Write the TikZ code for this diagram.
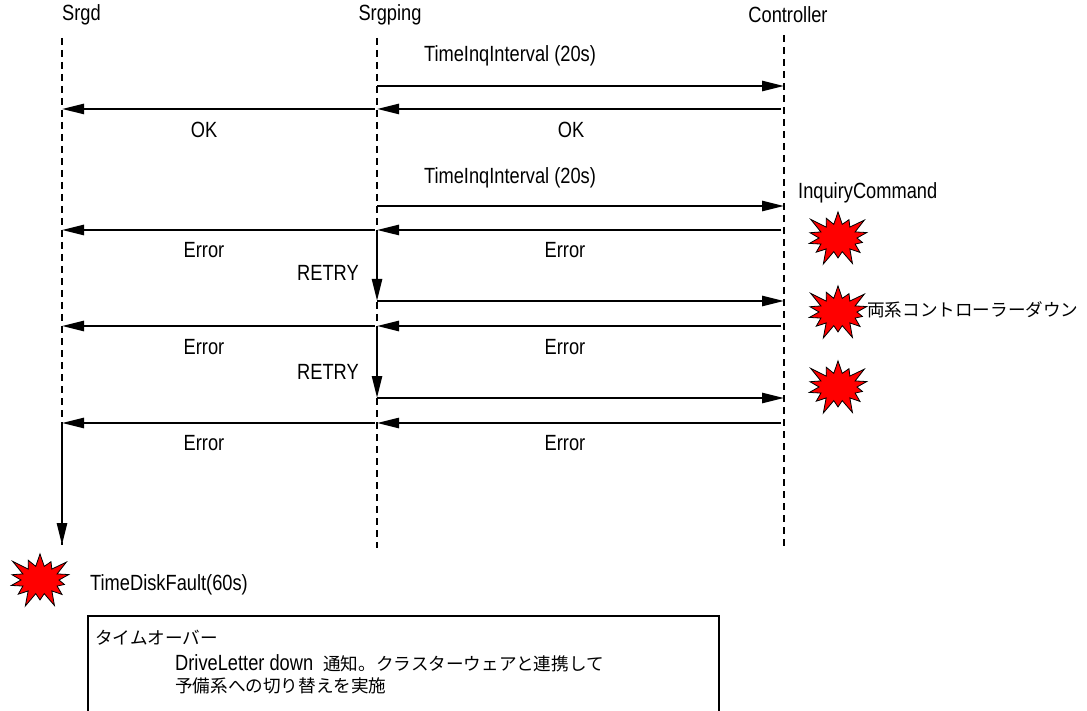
\documentclass[tikz,border=0pt]{standalone}
\usepackage{fontspec}
\setmainfont{Liberation Sans}[FakeStretch=0.83]
\newfontfamily\jpfont{Noto Sans CJK JP}[Scale=0.8]
\usetikzlibrary{arrows.meta, shapes.symbols}

\tikzset{
  every node/.style={font=\fontsize{22}{26}\selectfont, inner sep=0pt},
  life/.style={dash pattern=on 7pt off 5pt, line width=1.3pt},
  msg/.style={-{Triangle[length=22pt,width=10pt]}, line width=2.5pt},
  boom/.style={starburst, draw, fill=red, line width=0.8pt, starburst points=14,
    starburst point height=17pt, minimum width=72pt, minimum height=62pt},
  note/.style={draw, line width=1.5pt, anchor=north west},
}

\begin{document}
\begin{tikzpicture}[x=1pt, y=-1pt]
  \useasboundingbox (0,0) rectangle (1087,711);
  \clip (0,0) rectangle (1087,711);

  % Participants
  \node[anchor=west] (srgd) at (62,15) {Srgd};
  \node (srgping) at (390,15) {Srgping};
  \node (ctrl) at (788,15) {Controller};

  % Lifelines
  \coordinate (dtop) at (62,38);  \coordinate (dbot) at (62,545);
  \coordinate (ptop) at (377,38); \coordinate (pbot) at (377,548);
  \coordinate (ctop) at (784,35); \coordinate (cbot) at (784,548);
  \draw[life] (dtop) -- (dbot);
  \draw[life] (ptop) -- (pbot);
  \draw[life] (ctop) -- (cbot);

  % Message rows on the three lifelines
  \foreach \i/\y in {1/86,2/109,3/206,4/230,5/301,6/326,7/398,8/423,9/545} {
    \coordinate (d\i) at (62,\y);
    \coordinate (p\i) at (377,\y);
    \coordinate (c\i) at (784,\y);
  }

  % Requests and answers
  \foreach \i in {1,3,5,7}
    \draw[msg] (p\i) -- (c\i);
  \foreach \i in {2,4,6,8} {
    \draw[msg, shorten <=3pt] (c\i) -- (p\i);
    \draw[msg, shorten <=2pt] (p\i) -- (d\i);
  }

  % Retries and timeout
  \draw[msg] (p4) -- (p5);
  \draw[msg] (p6) -- (p7);
  \draw[msg] (d8) -- (d9);

  % Labels
  \node (inq1) at (510,56) {TimeInqInterval (20s)};
  \node (inq2) at (510,178) {TimeInqInterval (20s)};
  \node (okd) at (204,130) {OK};
  \node (okc) at (571,130) {OK};
  \foreach \n/\y in {1/250,2/347,3/443} {
    \node (errd\n) at (204,\y) {Error};
    \node (errc\n) at (565,\y) {Error};
  }
  \node (retry1) at (328,273) {RETRY};
  \node (retry2) at (328,372) {RETRY};
  \node[anchor=west] (inqcmd) at (798,193) {InquiryCommand};

  % Faults
  \node[boom] (boom1) at (838,238) {};
  \node[boom] (boom2) at (838,312) {};
  \node[boom] (boom3) at (838,387) {};
  \node[boom] (boom4) at (40,580) {};
  \node[anchor=west] (down) at (867,310) {\jpfont 両系コントローラーダウン};
  \node[anchor=west] (tdf) at (90,585) {TimeDiskFault(60s)};

  % Note box
  \node[note, minimum width=631pt, minimum height=130pt] (box) at (87,615) {};
  \node[anchor=west] (note1) at (95,638) {\jpfont タイムオーバー};
  \node[anchor=west] (note2) at (175,663) {DriveLetter down\ \ {\jpfont 通知。クラスターウェアと連携して}};
  \node[anchor=west] (note3) at (175,686) {\jpfont 予備系への切り替えを実施};
\end{tikzpicture}
\end{document}
